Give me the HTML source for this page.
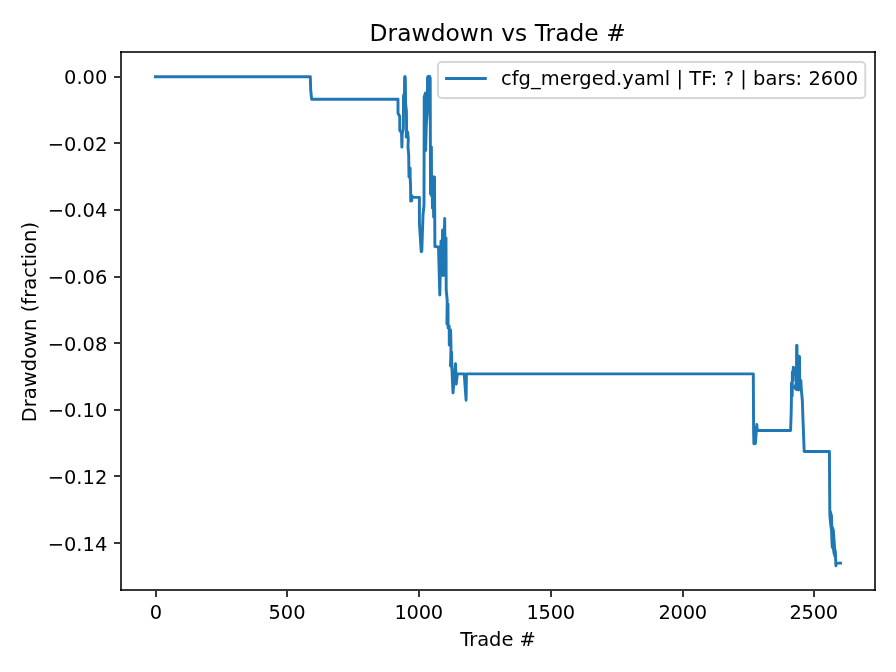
<!DOCTYPE html>
<html lang="en"><head><meta charset="utf-8"><title>Drawdown vs Trade #</title>
<style>html,body{margin:0;padding:0;background:#fff}svg{display:block}</style></head>
<body>
<svg width="896" height="672" viewBox="0 0 896 672">
<rect width="896" height="672" fill="#fff"/>
<path d="M155.40,76.75 L310.30,76.75 L310.70,90.00 L311.60,99.20 L398.00,99.20 L398.00,113.00 L399.70,116.50 L399.80,130.50 L401.50,133.00 L401.90,147.10 L402.20,134.00 L403.40,128.50 L403.50,96.00 L404.50,93.00 L404.60,77.20 L404.90,76.60 L405.30,77.20 L405.60,104.00 L406.40,111.00 L406.60,128.00 L406.20,137.00 L407.60,132.00 L408.30,139.00 L408.00,147.00 L408.70,155.00 L409.00,177.00 L410.10,168.00 L410.20,178.00 L410.60,187.00 L410.70,201.00 L411.70,200.80 L411.90,195.60 L411.90,197.40 L419.40,197.40 L419.40,223.00 L421.20,251.70 L421.80,251.20 L423.00,215.00 L424.00,205.00 L424.20,97.00 L425.50,93.00 L425.60,150.50 L426.30,125.00 L427.40,112.00 L427.50,78.00 L427.90,76.70 L428.80,76.30 L429.70,76.70 L430.20,78.00 L430.50,194.00 L431.40,147.00 L431.60,196.00 L432.20,176.50 L432.40,208.00 L433.40,177.00 L433.60,217.00 L434.50,177.00 L434.90,246.50 L438.50,247.00 L439.80,295.00 L441.00,241.00 L441.60,275.30 L442.60,230.00 L443.20,275.40 L444.70,218.50 L445.20,275.50 L446.00,238.00 L446.20,290.00 L447.20,300.00 L446.90,324.00 L448.00,304.00 L448.10,328.00 L449.20,326.00 L449.30,345.00 L450.60,330.00 L451.00,347.00 L450.50,366.00 L451.60,352.00 L451.90,368.00 L453.00,392.90 L455.50,363.80 L456.20,384.00 L457.40,373.90 L464.20,373.90 L466.10,400.20 L466.40,373.90 L753.30,373.90 L753.60,432.00 L753.90,443.80 L755.00,428.00 L755.40,443.50 L756.80,424.50 L757.30,430.50 L790.60,430.50 L791.20,412.00 L791.40,400.00 L791.50,383.00 L792.20,396.00 L792.40,372.00 L792.80,381.00 L793.30,367.30 L794.60,368.50 L796.00,372.00 L796.10,384.00 L794.70,387.50 L796.40,389.50 L796.60,345.50 L797.00,345.50 L797.20,389.50 L798.20,356.00 L798.60,390.00 L799.50,356.50 L799.80,388.00 L800.90,380.50 L801.20,388.00 L802.30,400.00 L803.00,420.00 L804.20,451.50 L829.40,451.50 L829.80,511.00 L830.00,517.00 L830.90,526.00 L831.60,531.00 L831.90,540.00 L832.30,547.00 L833.50,549.00 L834.00,553.00 L835.30,557.00 L835.60,558.00 L835.40,552.00 L834.60,548.00 L834.00,539.00 L833.30,530.00 L831.80,526.00 L831.50,516.00 L830.10,511.00 L831.50,516.00 L831.80,526.00 L833.30,530.00 L834.00,539.00 L834.60,548.00 L835.40,552.00 L835.60,558.00 L835.90,565.80 L836.30,563.15 L840.60,563.15" fill="none" stroke="#1f77b4" stroke-width="2.92" stroke-linejoin="round" stroke-linecap="square"/>
<g fill="#383838" shape-rendering="crispEdges">
<rect x="120" y="51" width="756" height="2"/>
<rect x="120" y="589" width="756" height="2"/>
<rect x="120" y="51" width="2" height="540"/>
<rect x="874" y="51" width="2" height="540"/>
<rect x="155" y="590" width="2" height="7"/>
<rect x="286" y="590" width="2" height="7"/>
<rect x="418" y="590" width="2" height="7"/>
<rect x="550" y="590" width="2" height="7"/>
<rect x="682" y="590" width="2" height="7"/>
<rect x="813" y="590" width="2" height="7"/>
<rect x="114" y="76" width="7" height="2"/>
<rect x="114" y="142" width="7" height="2"/>
<rect x="114" y="209" width="7" height="2"/>
<rect x="114" y="276" width="7" height="2"/>
<rect x="114" y="342" width="7" height="2"/>
<rect x="114" y="409" width="7" height="2"/>
<rect x="114" y="475" width="7" height="2"/>
<rect x="114" y="542" width="7" height="2"/>
</g>
<g fill="#0c0c0c" shape-rendering="crispEdges">
<rect x="120" y="51" width="2" height="2"/>
<rect x="120" y="589" width="2" height="2"/>
<rect x="874" y="51" width="2" height="2"/>
<rect x="874" y="589" width="2" height="2"/>
</g>
<g font-family="'DejaVu Sans', 'Liberation Sans', sans-serif" fill="#000">
<text x="369.6" y="41.0" font-size="23.333" textLength="256.1" lengthAdjust="spacing">Drawdown vs Trade #</text>
<text x="498" y="645.8" font-size="19.444" text-anchor="middle">Trade #</text>
<text transform="translate(36,322.1) rotate(-90)" font-size="19.444" text-anchor="middle" textLength="200.3" lengthAdjust="spacing">Drawdown (fraction)</text>
<text x="156" y="619.0" font-size="19.444" text-anchor="middle">0</text>
<text x="287" y="619.0" font-size="19.444" text-anchor="middle">500</text>
<text x="418.8" y="619.0" font-size="19.444" text-anchor="middle" textLength="48.5" lengthAdjust="spacing">1000</text>
<text x="550.8" y="619.0" font-size="19.444" text-anchor="middle" textLength="48.5" lengthAdjust="spacing">1500</text>
<text x="682.8" y="619.0" font-size="19.444" text-anchor="middle" textLength="48.5" lengthAdjust="spacing">2000</text>
<text x="813.8" y="619.0" font-size="19.444" text-anchor="middle" textLength="48.5" lengthAdjust="spacing">2500</text>
<text x="107.3" y="84" font-size="19.444" text-anchor="end">0.00</text>
<text x="107.3" y="151" font-size="19.444" text-anchor="end">−0.02</text>
<text x="107.3" y="217" font-size="19.444" text-anchor="end">−0.04</text>
<text x="107.3" y="284" font-size="19.444" text-anchor="end">−0.06</text>
<text x="107.3" y="351" font-size="19.444" text-anchor="end">−0.08</text>
<text x="107.3" y="417" font-size="19.444" text-anchor="end">−0.10</text>
<text x="107.3" y="484" font-size="19.444" text-anchor="end">−0.12</text>
<text x="107.3" y="551" font-size="19.444" text-anchor="end">−0.14</text>
</g>
<rect x="437.9" y="62.0" width="427.4" height="36.0" rx="3.9" ry="3.9" fill="#fff" fill-opacity="0.8" stroke="#cccccc" stroke-opacity="0.8" stroke-width="1.944"/>
<path d="M446.5,78.45 L485.3,78.45" stroke="#1f77b4" stroke-width="2.92" stroke-linecap="square"/>
<text x="501.0" y="85.3" font-family="'DejaVu Sans', 'Liberation Sans', sans-serif" font-size="19.444" fill="#000" textLength="357.0" lengthAdjust="spacing">cfg_merged.yaml | TF: ? | bars: 2600</text>
</svg>
</body></html>
